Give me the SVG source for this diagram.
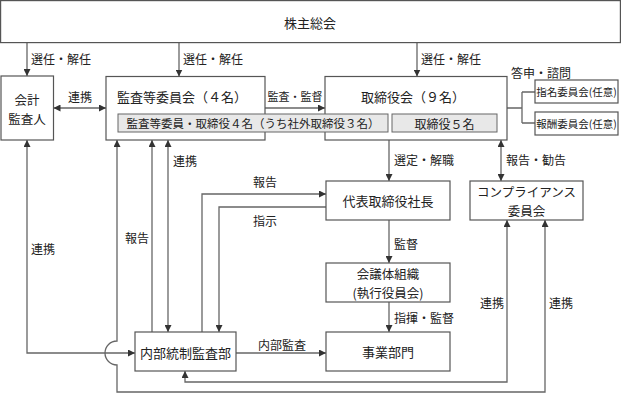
<svg xmlns="http://www.w3.org/2000/svg" width="621" height="394" viewBox="0 0 621 394">
<style>
.box{fill:#fff;stroke:#555;stroke-width:1.2}
.gray{fill:#e8e8e8;stroke:#666;stroke-width:1}
.ln{fill:none;stroke:#666;stroke-width:1.3}
text{font-family:"Noto Sans CJK JP","Noto Sans",sans-serif;fill:#222}
.t13{font-size:13px;text-anchor:middle;dominant-baseline:central}
.two{font-size:12.5px;text-anchor:middle;dominant-baseline:central}
.t12{font-size:12px;dominant-baseline:central}
.t11{font-size:11.5px;text-anchor:middle;dominant-baseline:central}
.t10{font-size:10.5px;text-anchor:middle;dominant-baseline:central}
</style>
<defs>
<marker id="ah" viewBox="0 0 8 8" refX="8" refY="4" markerWidth="7" markerHeight="7" markerUnits="userSpaceOnUse" orient="auto-start-reverse">
<path d="M0,0 L8,4 L0,8 z" fill="#333"/>
</marker>
</defs>

<g id="connectors">
<path class="ln" d="M27,42.5 V76" marker-end="url(#ah)"/>
<path class="ln" d="M179,42.5 V76.5" marker-end="url(#ah)"/>
<path class="ln" d="M417,42.5 V76.5" marker-end="url(#ah)"/>
<path class="ln" d="M53.5,108 H106" marker-start="url(#ah)" marker-end="url(#ah)"/>
<path class="ln" d="M265,108 H325" marker-end="url(#ah)"/>
<path class="ln" d="M507,108 H522 M522,92 V123 M522,92 H535 M522,123 H535"/>
<path class="ln" d="M389,140 V181" marker-end="url(#ah)"/>
<path class="ln" d="M501,140 V181" marker-start="url(#ah)" marker-end="url(#ah)"/>
<path class="ln" d="M389,220 V263" marker-end="url(#ah)"/>
<path class="ln" d="M389,302 V332" marker-end="url(#ah)"/>
<path class="ln" d="M236,353 H326" marker-end="url(#ah)"/>
<path class="ln" d="M202,332 V194 H326" marker-end="url(#ah)"/>
<path class="ln" d="M326,207 H219 V332" marker-end="url(#ah)"/>
<path class="ln" d="M152,332 V140" marker-end="url(#ah)"/>
<path class="ln" d="M168,140 V332" marker-start="url(#ah)" marker-end="url(#ah)"/>
<path class="ln" d="M27,140 V353 H135" marker-start="url(#ah)" marker-end="url(#ah)"/>
<path class="ln" d="M507,220 V382 H185 V371" marker-start="url(#ah)" marker-end="url(#ah)"/>
<path class="ln" d="M545,220 V392 H117 V365 A12,12 0 0 1 117,341 V140" marker-start="url(#ah)" marker-end="url(#ah)"/>
</g>

<g id="labels">
<text class="t12" x="31" y="58">選任・解任</text>
<text class="t12" x="183" y="58">選任・解任</text>
<text class="t12" x="421" y="58">選任・解任</text>
<text class="t12" x="511" y="72">答申・諮問</text>
<text class="t12" x="68" y="96">連携</text>
<text class="t12" x="267.5" y="96" style="font-size:11px">監査・監督</text>
<text class="t12" x="173" y="160">連携</text>
<text class="t12" x="394" y="159">選定・解職</text>
<text class="t12" x="506" y="159">報告・勧告</text>
<text class="t12" x="253" y="181">報告</text>
<text class="t12" x="253" y="220">指示</text>
<text class="t12" x="125" y="237">報告</text>
<text class="t12" x="31" y="248">連携</text>
<text class="t12" x="394" y="243">監督</text>
<text class="t12" x="480" y="302">連携</text>
<text class="t12" x="549" y="302">連携</text>
<text class="t12" x="394" y="317">指揮・監督</text>
<text class="t12" x="258" y="344">内部監査</text>
</g>

<g id="shareholders">
<rect class="box" x="0.6" y="0.6" width="619.8" height="42"/>
<text class="t13" x="310" y="22">株主総会</text>
</g>

<g id="auditor">
<rect class="box" x="1" y="76" width="52.5" height="64"/>
<text class="two" x="27" y="99.5">会計<tspan x="27" dy="18.2">監査人</tspan></text>
</g>

<g id="audit-committee">
<rect class="box" x="106" y="76.5" width="159" height="63.5"/>
<text class="t13" x="182" y="96">監査等委員会（４名）</text>
</g>

<g id="board">
<rect class="box" x="325" y="76.5" width="182" height="63.5"/>
<text class="t13" x="413" y="96">取締役会（９名）</text>
</g>

<g id="audit-members">
<rect class="gray" x="118" y="114" width="270" height="18"/>
<text class="t11" x="253" y="123">監査等委員・取締役４名（うち社外取締役３名）</text>
</g>

<g id="directors">
<rect class="gray" x="392" y="114" width="105" height="18"/>
<text class="t12" x="444.5" y="123" text-anchor="middle">取締役５名</text>
</g>

<g id="nomination">
<rect class="box" x="535" y="80" width="83" height="23"/>
<text class="t10" x="576.5" y="91.5">指名委員会(任意)</text>
</g>

<g id="remuneration">
<rect class="box" x="535" y="112" width="83" height="23"/>
<text class="t10" x="576.5" y="123.5">報酬委員会(任意)</text>
</g>

<g id="president">
<rect class="box" x="326" y="181" width="124" height="39"/>
<text class="t13" x="388" y="200.5">代表取締役社長</text>
</g>

<g id="compliance">
<rect class="box" x="470" y="181" width="113" height="39"/>
<text class="two" x="526.5" y="191.4">コンプライアンス<tspan x="526.5" dy="18.2">委員会</tspan></text>
</g>

<g id="meeting">
<rect class="box" x="326" y="263" width="124" height="39"/>
<text class="two" x="388" y="273.4">会議体組織<tspan x="388" dy="18.2">(執行役員会)</tspan></text>
</g>

<g id="business">
<rect class="box" x="326" y="332" width="124" height="39"/>
<text class="t13" x="388" y="351.5">事業部門</text>
</g>

<g id="internal-audit">
<rect class="box" x="135" y="332" width="101" height="39"/>
<text class="t13" x="185.5" y="352">内部統制監査部</text>
</g>
</svg>
